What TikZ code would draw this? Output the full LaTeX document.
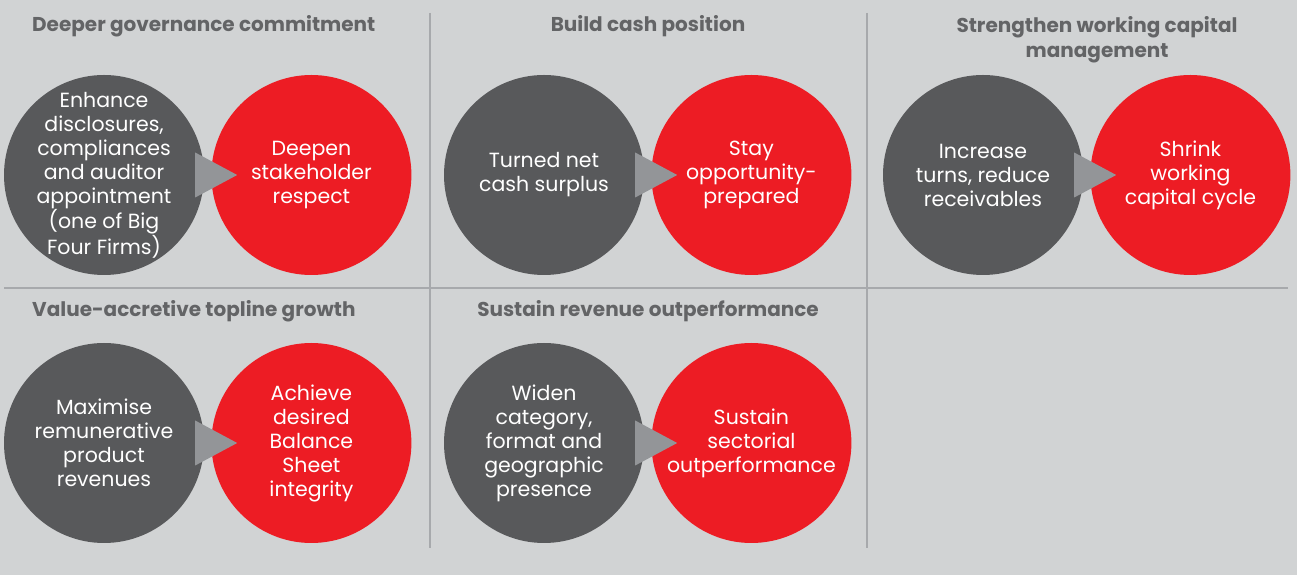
\documentclass[tikz,border=0pt]{standalone}
\usepackage{fontspec}
\setmainfont{Poppins}
\usetikzlibrary{positioning,calc}

\definecolor{bgGrey}{HTML}{D1D3D4}
\definecolor{darkGrey}{HTML}{58595B}
\definecolor{capRed}{HTML}{ED1C24}
\definecolor{triGrey}{HTML}{939598}
\definecolor{titleGrey}{HTML}{636466}
\definecolor{ruleGrey}{HTML}{A7A9AC}

\begin{document}
\begin{tikzpicture}[
  x=1pt, y=1pt,
  greycirc/.style={
    circle, fill=darkGrey, text=white, minimum size=200pt, inner sep=-20pt,
    align=center, font=\fontsize{20.5}{24}\selectfont
  },
  redcirc/.style={greycirc, fill=capRed},
  title/.style={
    text=titleGrey, inner sep=0pt, align=center,
    font=\fontsize{20}{25}\selectfont\bfseries
  },
  pointer/.style={fill=triGrey},
  divider/.style={draw=ruleGrey, line width=1.2pt}
]

\fill[bgGrey] (0,0) rectangle (1297,575);
\useasboundingbox (0,0) rectangle (1297,575);

% panel dividers
\draw[divider] (430,562) -- (430,27);
\draw[divider] (867,562) -- (867,27);
\draw[divider] (4,287) -- (1288,287);

% top row
\node[title, anchor=base west] (govT) at (32,543) {Deeper governance commitment};
\node[greycirc] (gov) at (104,400) {Enhance\\ disclosures,\\ compliances\\ and auditor\\ appointment\\ (one of Big\\ Four Firms)};
\node[redcirc, right=7pt of gov] (govR) {Deepen\\ stakeholder\\ respect};

\node[title, anchor=base] (cashT) at (648,543) {Build cash position};
\node[greycirc] (cash) at (544,400) {Turned net\\ cash surplus};
\node[redcirc, right=7pt of cash] (cashR) {Stay\\ opportunity-\\ prepared};

\node[title] (wcT) at (1097,535.5) {Strengthen working capital\\ management};
\node[greycirc] (wc) at (983,400) {Increase\\ turns, reduce\\ receivables};
\node[redcirc, right=7pt of wc] (wcR) {Shrink\\ working\\ capital cycle};

% bottom row
\node[title, anchor=base west] (topT) at (32,258) {Value-accretive topline growth};
\node[greycirc] (top) at (104,132) {Maximise\\ remunerative\\ product\\ revenues};
\node[redcirc, right=7pt of top] (topR) {Achieve\\ desired\\ Balance\\ Sheet\\ integrity};

\node[title, anchor=base] (revT) at (648,258) {Sustain revenue outperformance};
\node[greycirc] (rev) at (544,132) {Widen\\ category,\\ format and\\ geographic\\ presence};
\node[redcirc, right=7pt of rev] (revR) {Sustain\\ sectorial\\ outperformance};

% pointers between the circles
\fill[pointer] ($(gov.east)+(-9,22.5)$) -- ($(govR.west)+(26,0)$) -- ($(gov.east)+(-9,-22.5)$) -- cycle;
\fill[pointer] ($(cash.east)+(-9,22.5)$) -- ($(cashR.west)+(26,0)$) -- ($(cash.east)+(-9,-22.5)$) -- cycle;
\fill[pointer] ($(wc.east)+(-9,22.5)$) -- ($(wcR.west)+(26,0)$) -- ($(wc.east)+(-9,-22.5)$) -- cycle;
\fill[pointer] ($(top.east)+(-9,22.5)$) -- ($(topR.west)+(26,0)$) -- ($(top.east)+(-9,-22.5)$) -- cycle;
\fill[pointer] ($(rev.east)+(-9,22.5)$) -- ($(revR.west)+(26,0)$) -- ($(rev.east)+(-9,-22.5)$) -- cycle;

\end{tikzpicture}
\end{document}
